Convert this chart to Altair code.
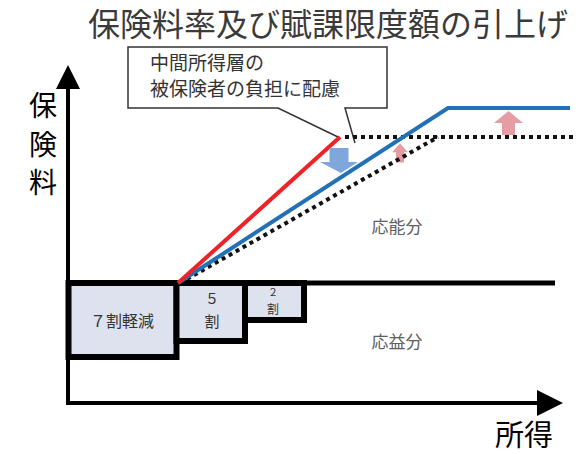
import altair as alt
import pandas as pd

W, H = 583, 454
FONT = "Noto Sans CJK JP"

# ---- texts ----
title_text = "保険料率及び賦課限度額の引上げ"
title_pos = [328, 26]
ylabel_chars = ["保", "険", "料"]
ylabel_x = [43, 43, 43]
ylabel_y = [108, 147, 185]
xlabel_text = ["所得"]
xlabel_pos = [524, 437]
callout_lines = ["中間所得層の", "被保険者の負担に配慮"]
callout_text_x = [150, 150]
callout_text_y = [64, 90]
area_labels = ["応能分", "応益分"]
area_label_x = [397, 397]
area_label_y = [228, 343]

# ---- reduction boxes (7割 / 5割 / 2割軽減) ----
box_names = ["7", "5", "2"]
box_x0 = [68.5, 176.5, 245]
box_x1 = [176.5, 245, 304]
box_y0 = [283, 283, 283]
box_y1 = [357, 341, 320]
box_text = ["７割軽減", "５", "割", "２", "割"]
box_text_x = [122, 212, 212, 273, 273]
box_text_y = [322, 300, 322, 293, 310]
box_text_size = [16, 14, 15, 10, 12]

# ---- schedule lines ----
red_x = [178, 340]
red_y = [283, 137]
blue_x = [178, 448, 570]
blue_y = [283, 108, 108]
old_diag_x = [180, 438]
old_diag_y = [283, 137]
old_flat_x = [345, 573]
old_flat_y = [137, 137]
base_x = [68, 555]
base_y = [283, 283]

# ---- axes ----
yaxis_x = [68, 68]
yaxis_y = [405, 85]
xaxis_x = [66, 540]
xaxis_y = [403, 403]
yarrow = [68, 77]
xarrow = [550, 403]

# ---- callout outline ----
callout_x = [355, 345, 387, 387, 128, 128, 278, 338]
callout_y = [143, 108, 108, 47, 47, 108, 108, 137]

# ---- block arrows ----
down_arrow = [339, 160.5]
up_big = [508.5, 123]
up_small = [400, 153]

X = alt.Scale(domain=[0, W], nice=False, zero=False)
Y = alt.Scale(domain=[0, H], nice=False, zero=False, reverse=True)


def enc(**kw):
    out = dict(
        x=alt.X("x:Q", scale=X, axis=None),
        y=alt.Y("y:Q", scale=Y, axis=None),
    )
    out.update(kw)
    return out


def poly(xs, ys):
    return pd.DataFrame({"x": xs, "y": ys, "o": list(range(len(xs)))})


def line(xs, ys, color, width, dash=None, cap="butt"):
    kw = dict(color=color, strokeWidth=width, strokeCap=cap, strokeJoin="miter")
    if dash:
        kw["strokeDash"] = dash
    return alt.Chart(poly(xs, ys)).mark_line(**kw).encode(
        **enc(order=alt.Order("o:Q"))
    )


boxes = pd.DataFrame({"n": box_names, "x": box_x0, "x2": box_x1, "y": box_y0, "y2": box_y1})
box_layer = alt.Chart(boxes).mark_rect(
    fill="#dde2ee", stroke="#000000", strokeWidth=6
).encode(**enc(x2="x2:Q", y2="y2:Q"))

box_txt = pd.DataFrame({"t": box_text, "x": box_text_x, "y": box_text_y, "s": box_text_size})
box_txt_layer = alt.Chart(box_txt).mark_text(
    font=FONT, color="#333333", align="center", baseline="middle"
).encode(**enc(text="t:N", size=alt.Size("s:Q", scale=None)))


def point(pos, shape, size, color):
    return alt.Chart(pd.DataFrame({"x": [pos[0]], "y": [pos[1]]})).mark_point(
        shape=shape, size=size, filled=True, color=color, opacity=1, strokeWidth=0
    ).encode(**enc())


def texts(ts, xs, ys, size, color, align="center", weight="normal"):
    df = pd.DataFrame({"t": ts, "x": xs, "y": ys})
    return alt.Chart(df).mark_text(
        font=FONT, fontSize=size, color=color, align=align, baseline="middle",
        fontWeight=weight,
    ).encode(**enc(text="t:N"))


layers = [
    line(base_x, base_y, "#000000", 5),
    box_layer,
    line(yaxis_x, yaxis_y, "#000000", 4),
    line(xaxis_x, xaxis_y, "#000000", 4),
    point(yarrow, "M0,-1 L1,1 L-1,1 Z", 576, "#000000"),
    point(xarrow, "M1,0 L-1,-1 L-1,1 Z", 676, "#000000"),
    point(up_big, "M0,-0.83 L1,0 L0.45,0 L0.45,0.83 L-0.45,0.83 L-0.45,0 L-1,0 Z", 841, "#e59ca3"),
    point(up_small, "M0,-1.2 L1,-0.1 L0.5,-0.1 L0.5,1.2 L-0.5,1.2 L-0.5,-0.1 L-1,-0.1 Z", 256, "#e59ca3"),
    line(callout_x, callout_y, "#333333", 1.5),
    line(old_flat_x, old_flat_y, "#111111", 4, dash=[4, 4]),
    line(old_diag_x, old_diag_y, "#111111", 4, dash=[4, 4]),
    line(blue_x, blue_y, "#2270b6", 4),
    line(red_x, red_y, "#ee2228", 4),
    point(down_arrow, "M-0.5,-0.66 L0.5,-0.66 L0.5,0.08 L1,0.08 L0.1,0.66 L-1,0.08 L-0.5,0.08 Z", 1444, "#7ea7dc"),
    box_txt_layer,
    texts([title_text], [title_pos[0]], [title_pos[1]], 32, "#3a3a3a"),
    texts(ylabel_chars, ylabel_x, ylabel_y, 28, "#000000"),
    texts(xlabel_text, [xlabel_pos[0]], [xlabel_pos[1]], 29, "#000000"),
    texts(callout_lines, callout_text_x, callout_text_y, 19, "#333333", align="left"),
    texts(area_labels, area_label_x, area_label_y, 17, "#606060"),
]

chart = alt.layer(*layers).properties(
    width=W, height=H, padding=0, autosize=alt.AutoSizeParams(type="none"),
    background="#ffffff",
).configure_view(stroke=None)

chart.save("out.html", embed_options={"renderer": "svg", "actions": False})
